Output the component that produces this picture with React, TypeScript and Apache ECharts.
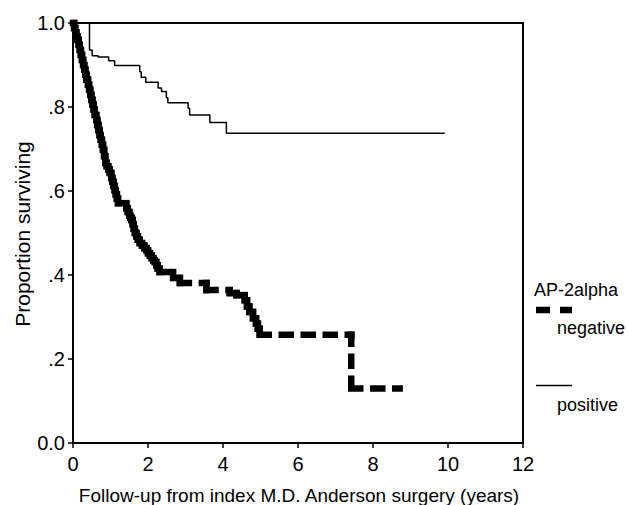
import React, { useEffect, useRef } from "react";
import * as echarts from "echarts";

// Kaplan-Meier curves
const negTime = [0, 0.03, 0.06, 0.09, 0.12, 0.15, 0.18, 0.21, 0.24, 0.27, 0.3, 0.33, 0.36, 0.4, 0.43, 0.46, 0.49, 0.52, 0.55, 0.58, 0.62, 0.65, 0.68, 0.71, 0.74, 0.77, 0.8, 0.83, 0.86, 0.9, 0.94, 0.98, 1.02, 1.05, 1.08, 1.11, 1.14, 1.17, 1.2, 1.42, 1.46, 1.5, 1.53, 1.56, 1.59, 1.62, 1.65, 1.69, 1.73, 1.78, 1.84, 1.9, 1.96, 2.0, 2.05, 2.1, 2.14, 2.18, 2.22, 2.26, 2.31, 2.67, 2.85, 3.56, 4.18, 4.36, 4.58, 4.64, 4.7, 4.8, 4.88, 4.93, 4.98, 7.42, 8.71];
const negSurv = [1.0, 0.988, 0.978, 0.968, 0.96, 0.948, 0.936, 0.924, 0.912, 0.9, 0.889, 0.877, 0.865, 0.853, 0.841, 0.829, 0.817, 0.806, 0.794, 0.781, 0.769, 0.757, 0.745, 0.733, 0.722, 0.71, 0.698, 0.683, 0.667, 0.659, 0.651, 0.643, 0.631, 0.622, 0.612, 0.602, 0.592, 0.582, 0.571, 0.559, 0.55, 0.541, 0.536, 0.531, 0.521, 0.51, 0.5, 0.492, 0.484, 0.476, 0.47, 0.464, 0.459, 0.452, 0.446, 0.44, 0.435, 0.431, 0.423, 0.415, 0.407, 0.393, 0.381, 0.364, 0.357, 0.352, 0.34, 0.325, 0.312, 0.297, 0.284, 0.272, 0.258, 0.13, 0.13];

const posTime = [0, 0.44, 0.51, 0.67, 0.95, 1.11, 1.78, 1.82, 1.94, 2.27, 2.36, 2.49, 2.53, 3.07, 3.11, 3.65, 4.09, 9.91];
const posSurv = [1.0, 0.936, 0.922, 0.919, 0.91, 0.899, 0.884, 0.871, 0.859, 0.845, 0.837, 0.822, 0.81, 0.797, 0.781, 0.763, 0.7375, 0.7375];

const yTickLabels = ["0.0", ".2", ".4", ".6", ".8", "1.0"];
const xTitle = "Follow-up from index M.D. Anderson surgery (years)";
const yTitle = "Proportion surviving";
const legendTitle = "AP-2alpha";
const groupNames = ["negative", "positive"];

const FONT = "'Liberation Sans', Arial, Helvetica, sans-serif";

export default function App() {
  const ref = useRef<HTMLDivElement>(null);
  useEffect(() => {
    if (!ref.current) return;
    const chart = echarts.init(ref.current, undefined, { renderer: "svg" });

    const negSteps: number[][] = [];
    for (let i = 0; i < negTime.length - 1; i++) {
      negSteps.push([negTime[i], negSurv[i], negTime[i + 1], negSurv[i + 1]]);
    }
    const posData = posTime.map((t, i) => [t, posSurv[i]]);

    const dashStyle = {
      stroke: "#000",
      fill: null,
      lineWidth: 6.5,
      lineDash: [9, 13],
      lineCap: "square",
    };

    chart.setOption({
      animation: false,
      backgroundColor: "#fff",
      grid: {
        left: 73,
        right: 105,
        top: 23,
        bottom: 62,
        show: true,
        borderColor: "#000",
        borderWidth: 2,
        backgroundColor: "transparent",
      },
      xAxis: {
        type: "value",
        min: 0,
        max: 12,
        interval: 2,
        axisLine: { show: true, lineStyle: { color: "#000", width: 2 } },
        axisTick: { show: true, length: 5, lineStyle: { color: "#000", width: 1.5 } },
        axisLabel: { fontSize: 20, color: "#000", fontFamily: FONT, margin: 11 },
        splitLine: { show: false },
      },
      yAxis: {
        type: "value",
        min: 0,
        max: 1,
        interval: 0.2,
        axisLine: { show: true, lineStyle: { color: "#000", width: 2 } },
        axisTick: { show: true, length: 5, lineStyle: { color: "#000", width: 1.5 } },
        axisLabel: {
          fontSize: 20,
          color: "#000",
          fontFamily: FONT,
          margin: 8,
          formatter: (_v: number, idx: number) => yTickLabels[idx],
        },
        splitLine: { show: false },
      },
      series: [
        {
          name: groupNames[1],
          type: "line",
          step: "end",
          data: posData,
          symbol: "none",
          lineStyle: { color: "#000", width: 1.5 },
        },
        {
          name: groupNames[0],
          type: "custom",
          data: negSteps,
          encode: { x: [0, 2], y: [1, 3] },
          renderItem: (_params: any, api: any) => {
            const p0 = api.coord([api.value(0), api.value(1)]);
            const p1 = api.coord([api.value(2), api.value(1)]);
            const p2 = api.coord([api.value(2), api.value(3)]);
            const children: any[] = [];
            if (Math.abs(p1[0] - p0[0]) > 0.01) {
              children.push({
                type: "line",
                shape: { x1: p0[0], y1: p0[1], x2: p1[0], y2: p1[1] },
                style: dashStyle,
              });
            }
            if (Math.abs(p2[1] - p1[1]) > 0.01) {
              children.push({
                type: "line",
                shape: { x1: p1[0], y1: p1[1], x2: p2[0], y2: p2[1] },
                style: dashStyle,
              });
            }
            return { type: "group", children };
          },
        },
      ],
      graphic: [
        {
          type: "text",
          x: 299,
          y: 495,
          style: {
            text: xTitle,
            font: `19px ${FONT}`,
            fill: "#000",
            textAlign: "center",
            textVerticalAlign: "middle",
          },
        },
        {
          type: "text",
          x: 22,
          y: 234,
          rotation: Math.PI / 2,
          style: {
            text: yTitle,
            font: `21px ${FONT}`,
            fill: "#000",
            textAlign: "center",
            textVerticalAlign: "middle",
          },
        },
        {
          type: "text",
          x: 534,
          y: 290,
          style: {
            text: legendTitle,
            font: `18px ${FONT}`,
            fill: "#000",
            textAlign: "left",
            textVerticalAlign: "middle",
          },
        },
        {
          type: "line",
          shape: { x1: 536, y1: 310, x2: 572, y2: 310 },
          style: { stroke: "#000", lineWidth: 6.5, lineDash: [14, 10] },
        },
        {
          type: "text",
          x: 557,
          y: 328,
          style: {
            text: groupNames[0],
            font: `18px ${FONT}`,
            fill: "#000",
            textAlign: "left",
            textVerticalAlign: "middle",
          },
        },
        {
          type: "line",
          shape: { x1: 536, y1: 385.5, x2: 572, y2: 385.5 },
          style: { stroke: "#000", lineWidth: 1.5 },
        },
        {
          type: "text",
          x: 557,
          y: 405,
          style: {
            text: groupNames[1],
            font: `18px ${FONT}`,
            fill: "#000",
            textAlign: "left",
            textVerticalAlign: "middle",
          },
        },
      ],
    });
    return () => chart.dispose();
  }, []);
  return (
    <div
      ref={ref}
      style={{ position: "fixed", left: 0, top: 0, width: 628, height: 505, background: "#fff" }}
    />
  );
}
